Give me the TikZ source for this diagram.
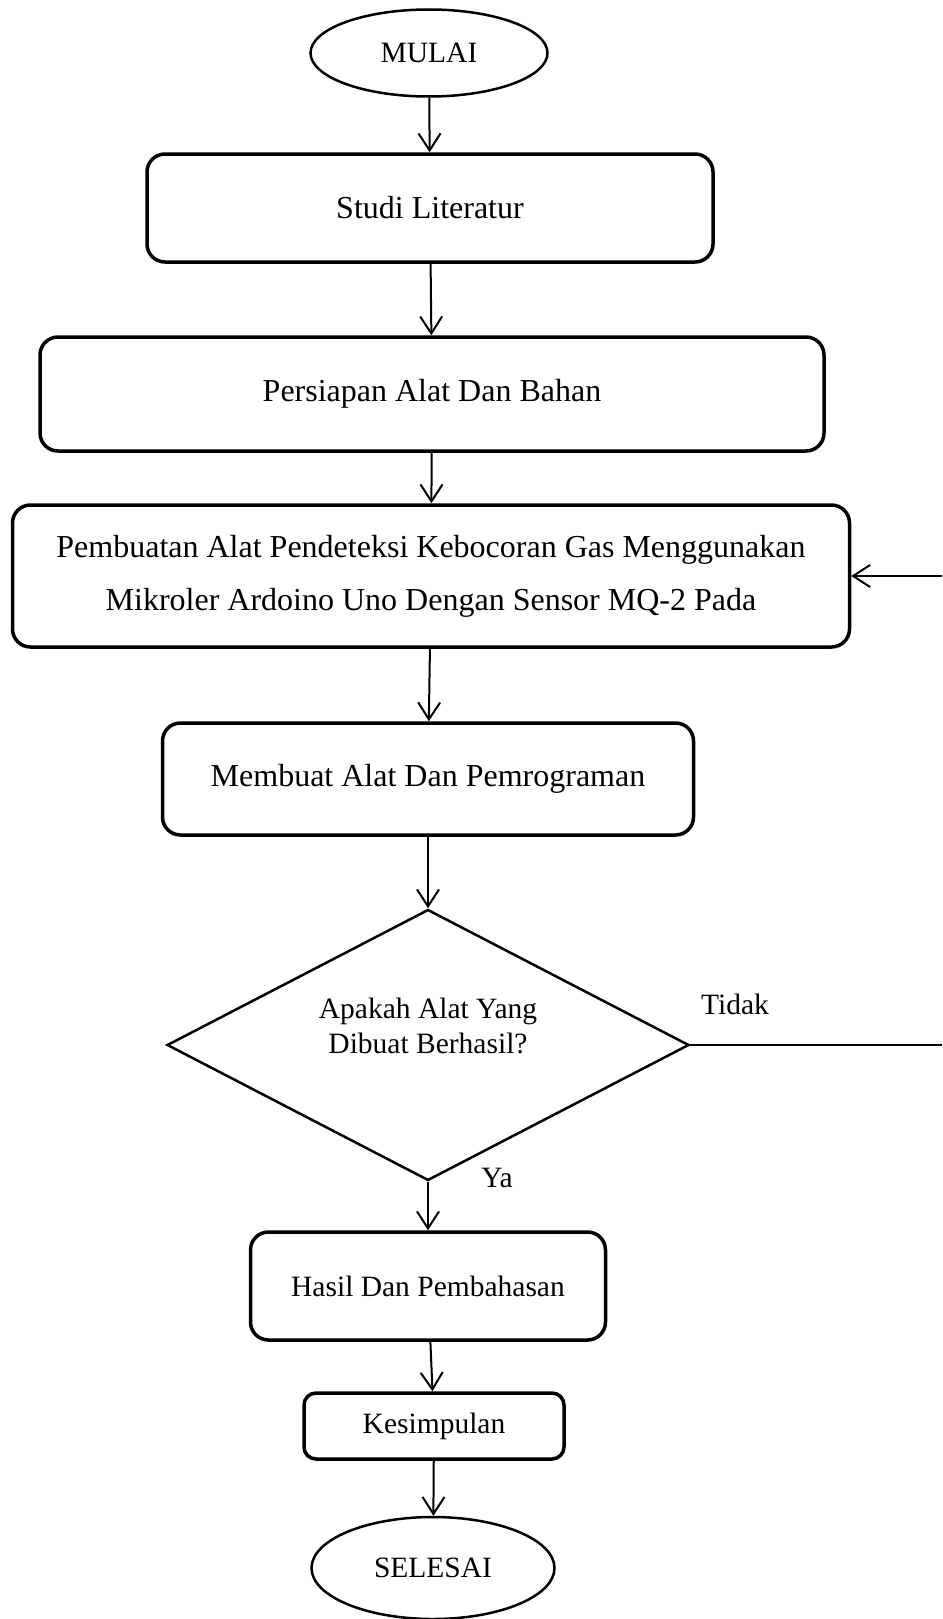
\documentclass[tikz,border=0pt]{standalone}
\usepackage{fontspec}
\setmainfont{Liberation Serif}
\usetikzlibrary{shapes.geometric,arrows.meta}

\begin{document}
\begin{tikzpicture}[x=1pt,y=-1pt,
	>={Straight Barb[length=17pt,width=22pt]},
	terminal/.style={draw,line width=2.5pt,ellipse,inner sep=0pt,font=\fontsize{29.5}{35}\selectfont},
	proses/.style={draw,line width=3.5pt,rounded corners=18pt,inner sep=0pt,align=center,font=\fontsize{32}{53}\selectfont},
	keputusan/.style={draw,line width=2.5pt,diamond,inner sep=0pt,minimum width=522pt,minimum height=271pt},
	panah/.style={line width=2pt,->},
	teks/.style={align=center,font=\fontsize{29.5}{35}\selectfont}]
					\useasboundingbox (0,0) rectangle (942,1619);
					\node[terminal,minimum width=237pt,minimum height=87pt] (mulai) at (429,53) {MULAI};
					\node[proses,minimum width=566pt,minimum height=108pt] (studi) at (430,208) {Studi Literatur};
					\node[proses,minimum width=784pt,minimum height=114pt] (persiapan) at (432,394) {Persiapan Alat Dan Bahan};
					\node[proses,minimum width=837pt,minimum height=142pt] (pembuatan) at (431,576) {Pembuatan Alat Pendeteksi Kebocoran Gas Menggunakan\\Mikroler Ardoino Uno Dengan Sensor MQ-2 Pada};
					\node[proses,minimum width=531pt,minimum height=112pt] (membuat) at (428,779) {Membuat Alat Dan Pemrograman};
					\node[keputusan] (cek) at (428,1045) {};
					\node[teks] (cektext) at (428,1026) {Apakah Alat Yang\\Dibuat Berhasil?};
					\node[teks] (tidak) at (735,1004) {Tidak};
					\node[teks] (ya) at (497,1178) {Ya};
					\node[proses,font=\fontsize{29.5}{35}\selectfont,minimum width=355pt,minimum height=108pt] (hasil) at (428,1286) {Hasil Dan Pembahasan};
					\node[proses,font=\fontsize{29.5}{35}\selectfont,rounded corners=12pt,minimum width=260pt,minimum height=66pt] (kesimpulan) at (434,1426) {Kesimpulan};
					\node[terminal,minimum width=243pt,minimum height=102pt] (selesai) at (433,1568) {SELESAI};
					\coordinate (tidakujung) at (942,1045);
					\coordinate (kembali) at (942,576);
					\draw[panah] (mulai) -- (studi);
					\draw[panah] (studi) -- (persiapan);
					\draw[panah] (persiapan) -- (pembuatan);
					\draw[panah] (pembuatan) -- (membuat);
					\draw[panah] (membuat) -- (cek);
					\draw[panah] (cek) -- (hasil);
					\draw[panah] (hasil) -- (kesimpulan);
					\draw[panah] (kesimpulan) -- (selesai);
					\draw[line width=2pt] (cek.east) -- (tidakujung);
					\draw[panah] (kembali) -- (pembuatan.east);
				\end{tikzpicture}
\end{document}
